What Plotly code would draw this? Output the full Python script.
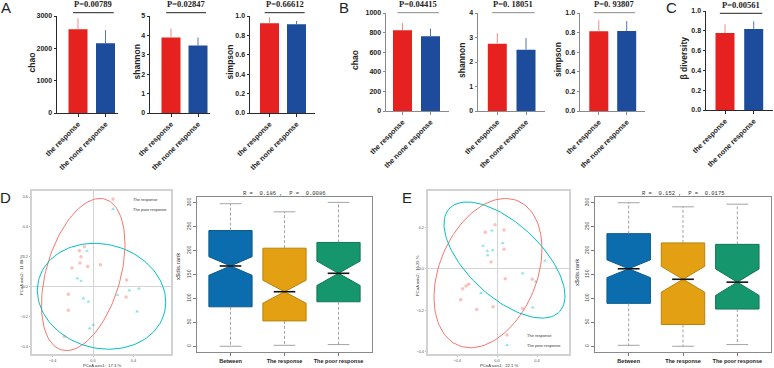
import numpy as np
import plotly.graph_objects as go

W, H = 774, 368

# ---------------- Panels A-C: mean + upper SD ----------------
bar_groups = ["the response", "the none response"]
bar_metric = ["chao", "shannon", "simpson", "chao", "shannon", "simpson", "β diversity"]
bar_mean_response = [2590, 3.89, 0.925, 824, 2.75, 0.813, 0.778]
bar_mean_none = [2155, 3.48, 0.914, 763, 2.50, 0.816, 0.819]
bar_sd_response = [340, 0.46, 0.061, 74, 0.43, 0.112, 0.088]
bar_sd_none = [410, 0.41, 0.034, 78, 0.48, 0.102, 0.077]
bar_p = ["P=0.00789", "P=0.02847", "P=0.66612", "P=0.04415", "P=0. 18051", "P=0. 93807", "P=0.00561"]
bar_ymax = [3000, 5, 1.0, 1000, 4, 1.0, 1.0]
bar_dtick = [1000, 1, 0.2, 200, 1, 0.2, 0.2]

# ---------------- Panels D/E: PCoA ----------------
pcoa_groups = ["The response", "The poor response"]
d_resp_x = [-0.086, -0.135, -0.119, -0.129, -0.208, -0.053, 0.073, 0.333, -0.244, 0.327, -0.244, -0.284]
d_resp_y = [0.269, 0.242, 0.202, 0.160, 0.127, 0.136, 0.149, 0.047, -0.049, -0.067, -0.156, -0.331]
d_poor_x = [-0.059, -0.155, -0.119, -0.096, -0.046, 0.244, 0.360, 0.455, 0.436, 0.003, -0.033]
d_poor_y = [0.240, 0.058, 0.040, -0.076, -0.098, -0.053, -0.022, -0.011, -0.164, -0.253, -0.276]
e_resp_x = [-0.020, -0.117, 0.070, 0.070, -0.060, 0.083, -0.283, -0.310, -0.343, -0.363, -0.203, -0.040, 0.257, 0.353]
e_resp_y = [0.213, 0.177, 0.188, 0.095, 0.034, -0.047, -0.074, -0.082, -0.095, -0.149, -0.196, -0.182, -0.191, -0.050]
e_poor_x = [-0.050, -0.140, -0.097, -0.043, -0.093, 0.057, 0.480, 0.257, 0.387, 0.357, -0.160]
e_poor_y = [0.185, 0.111, 0.087, 0.090, 0.066, 0.125, 0.040, -0.021, -0.061, -0.186, -0.116]
# ellipse parameters: centre x, centre y, sd x, sd y, covariance xy
d_resp_ellipse = [-0.097, 0.083, 0.4135, 0.5075, 0.0838]
d_poor_ellipse = [0.0845, -0.062, 0.6355, 0.353, -0.025]
e_resp_ellipse = [-0.090, -0.020, 0.540, 0.360, 0.063]
e_poor_ellipse = [0.075, 0.043, 0.605, 0.280, -0.105]
d_axis1_label = "PCoA axis1:  17.3 %"
d_axis2_label = "PCoA axis2:  11.08 %"
e_axis1_label = "PCoA axis1:  22.1 %"
e_axis2_label = "PCoA axis2:  16.29 %"

# ---------------- Panels D/E: ANOSIM boxplots ----------------
box_groups = ["Between", "The response", "The poor response"]
d_box_lower = [0, 2, 3.5]
d_box_q1 = [82.5, 53, 93]
d_box_median = [167.8, 114, 152.5]
d_box_q3 = [241.9, 205, 217]
d_box_upper = [298, 281, 300.7]
d_box_notch = [19.5, 24, 25.5]
d_box_title = "R =  0.186 ,  P =  0.0086"
e_box_lower = [2, 0, 3.5]
e_box_q1 = [89.7, 45.5, 77.8]
e_box_median = [162, 140, 134]
e_box_q3 = [235.4, 216, 213]
e_box_upper = [300, 291.5, 297]
e_box_notch = [18.6, 27, 27.7]
e_box_title = "R =  0.152 ,  P =  0.0175"

# ---------------- styling ----------------
RED, BLUE = "#E5221F", "#1C4C9B"
RED_ERR, BLUE_ERR = "#F08A88", "#5573BF"
PINK, CYAN = "#F8766D", "#00BFC4"
BOX_FILL = ["#0B6DAD", "#E3A012", "#16966D"]
BOX_LINE = ["#0A5A8E", "#B98208", "#0F7756"]
SANS = "Liberation Sans"


def fx(p):
    return p / W


def fy(p):
    return 1 - p / H


def ax_names(k):
    return ("x" if k == 1 else f"x{k}", "y" if k == 1 else f"y{k}",
            "xaxis" if k == 1 else f"xaxis{k}", "yaxis" if k == 1 else f"yaxis{k}")


def note(text, xp, yp, size, family=SANS, angle=0, color="#222"):
    return dict(text=text, x=fx(xp), y=fy(yp), xref="paper", yref="paper", textangle=angle,
                xanchor="center", yanchor="middle", showarrow=False,
                font=dict(family=family, size=size, color=color))


fig = go.Figure()
layout = dict(template="none", width=W, height=H, margin=dict(l=0, r=0, t=0, b=0, autoexpand=False),
              plot_bgcolor="white", paper_bgcolor="white",
              font=dict(family=SANS, color="#222"), showlegend=True)
annotations = []
shapes = []

# pixel geometry of the bar panels: axis left, red centre, blue centre, axis right, top, bottom
bar_geo = [
    (57, 78, 105.5, 118, 16, 113),
    (150, 171, 198, 210, 16, 113),
    (250, 269.5, 296.5, 315, 16, 113),
    (386, 402.5, 430.5, 449, 13, 111),
    (478, 497.3, 526, 545, 13, 111),
    (580, 598.8, 626.7, 645, 13, 111),
    (706, 725, 753.7, 773, 11, 110),
]
title_x = [31, 136, 229, 355, 462, 558, 683]
p_line_y = [12.7, 12.7, 12.7, 12.7, 12.7, 12.7, 13.3]

for i in range(7):
    k = i + 1
    xn, yn, xk, yk = ax_names(k)
    l, rc, bc, r, t, b = bar_geo[i]
    u = bc - rc
    bw = 19 / u
    axcol = "#8a8a8a" if 3 <= i <= 5 else "#2a2a2a"
    fig.add_trace(go.Bar(x=[0], y=[bar_mean_response[i]], width=bw, marker=dict(color=RED, line=dict(width=0)),
                         error_y=dict(type="data", array=[bar_sd_response[i]], arrayminus=[0], symmetric=False,
                                      color=RED_ERR, thickness=1, width=0),
                         xaxis=xn, yaxis=yn, showlegend=False, name=bar_groups[0]))
    fig.add_trace(go.Bar(x=[1], y=[bar_mean_none[i]], width=bw, marker=dict(color=BLUE, line=dict(width=0)),
                         error_y=dict(type="data", array=[bar_sd_none[i]], arrayminus=[0], symmetric=False,
                                      color=BLUE_ERR, thickness=1, width=0),
                         xaxis=xn, yaxis=yn, showlegend=False, name=bar_groups[1]))
    layout[xk] = dict(domain=[fx(l), fx(r)], range=[(l - rc) / u, (r - rc) / u], anchor=yn, automargin=False,
                      tickmode="array", tickvals=[0, 1], ticktext=bar_groups, tickangle=-45,
                      ticks="outside", ticklen=3, tickcolor=axcol, showline=True, linecolor=axcol, linewidth=1,
                      showgrid=False, zeroline=False,
                      tickfont=dict(family=SANS, size=7.3, weight="bold", color="#222"))
    fmt = ".1f" if bar_ymax[i] == 1.0 else "d"
    layout[yk] = dict(domain=[fy(b), fy(t)], range=[0, bar_ymax[i]], anchor=xn, dtick=bar_dtick[i], tick0=0,
                      automargin=False,
                      tickformat=fmt, ticks="outside", ticklen=2.5, tickcolor=axcol, showline=True, linecolor=axcol,
                      linewidth=1, showgrid=False, zeroline=False,
                      tickfont=dict(family=SANS, size=7, weight="bold", color="#222"))
    annotations.append(note(f"<b>{bar_metric[i]}</b>", title_x[i], (t + b) / 2 - 2, 8.5, angle=-90))
    pcol = "#8a8a8a" if 3 <= i <= 5 else "#222"
    shapes.append(dict(type="line", xref=xn, yref="paper", x0=-0.18, x1=1.3,
                       y0=fy(p_line_y[i]), y1=fy(p_line_y[i]), line=dict(color=pcol, width=1)))
    annotations.append(dict(text=f"<b>{bar_p[i]}</b>", x=0.56, y=fy(p_line_y[i] - 1.5), xref=xn, yref="paper",
                            xanchor="center", yanchor="bottom", showarrow=False,
                            font=dict(family="Liberation Serif", size=8.5, color="#222")))

# panel letters
for letter, px, py in [("A", 6, 8), ("B", 344, 8), ("C", 671, 8), ("D", 5, 197), ("E", 407, 197)]:
    annotations.append(note(letter, px, py, 15))


def ellipse(p, n=120):
    cx, cy, sx, sy, sxy = p
    L = np.linalg.cholesky(np.array([[sx * sx, sxy], [sxy, sy * sy]]))
    t = np.linspace(0, 2 * np.pi, n)
    pts = L @ np.vstack([np.cos(t), np.sin(t)])
    return cx + pts[0], cy + pts[1]


def pcoa_panel(k, geo, xr0, yr0, rx, ry, pts, ells, labels, legnames, legpos, yticks):
    xn, yn, xk, yk = ax_names(k)
    l, r, t, b = geo
    for (xs, ys), ep, col, sym, name, lg in zip(pts, ells, [PINK, CYAN], ["circle", "triangle-up"],
                                              pcoa_groups, legnames):
        ex, ey = ellipse(ep)
        fig.add_trace(go.Scatter(x=ex, y=ey, mode="lines", line=dict(color=col, width=1),
                                 xaxis=xn, yaxis=yn, showlegend=False, hoverinfo="skip"))
        fig.add_trace(go.Scatter(x=xs, y=ys, mode="markers", name=name, legend=lg,
                                 marker=dict(color=col, size=3.5, symbol=sym, opacity=0.45),
                                 xaxis=xn, yaxis=yn, showlegend=True))
    common = dict(showline=True, mirror=True, linecolor="#d2d2d2", linewidth=1.5, ticks="outside", ticklen=1.5,
                  tickcolor="#bbbbbb", showgrid=False, zeroline=True, zerolinecolor="#d4d4d4", automargin=False,
                  zerolinewidth=1.3, tickformat=".1f", tickfont=dict(family=SANS, size=3.8, color="#555"))
    layout[xk] = dict(domain=[fx(l), fx(r)], range=[xr0, rx], anchor=yn, tickvals=[-0.4, 0.0, 0.4], **common)
    layout[yk] = dict(domain=[fy(b), fy(t)], range=[yr0, ry], anchor=xn, tickvals=yticks, **common)
    annotations.append(note(labels[0], (l + r) / 2, 365.6, 4.2, color="#333"))
    annotations.append(note(labels[1], l - 10.5, (t + b) / 2 + 3, 4.2, angle=-90, color="#333"))
    for lg, (lx, ly) in zip(legnames, legpos):
        layout["legend" if lg == "legend" else lg] = dict(
            x=fx(lx), y=fy(ly), xanchor="left", yanchor="middle", bgcolor="rgba(0,0,0,0)",
            borderwidth=0, itemwidth=30, font=dict(family=SANS, size=4, color="#333"))


pcoa_panel(8, (32, 171, 191, 354), -0.604, -0.447, 0.772, 0.64,
           [(d_resp_x, d_resp_y), (d_poor_x, d_poor_y)], [d_resp_ellipse, d_poor_ellipse],
           [d_axis1_label, d_axis2_label], ["legend", "legend2"], [(93, 199), (93, 209)],
           [-0.4, -0.2, 0.0, 0.2, 0.4, 0.6])
pcoa_panel(10, (428, 569, 191, 354), -0.69, -0.41, 0.72, 0.376,
           [(e_resp_x, e_resp_y), (e_poor_x, e_poor_y)], [e_resp_ellipse, e_poor_ellipse],
           [e_axis1_label, e_axis2_label], ["legend3", "legend4"], [(487, 335), (487, 345)],
           [-0.4, -0.2, 0.0, 0.2])


def box_panel(k, geo, lower, q1, med, q3, upper, notch, title, title_x_px, title_y_center):
    xn, yn, xk, yk = ax_names(k)
    l, r, t, b = geo
    pos = [1, 2, 3]
    half = 0.4
    nw = 0.5
    for j in range(3):
        fig.add_trace(go.Box(x=[pos[j]], q1=[q1[j]], median=[med[j]], q3=[q3[j]],
                             lowerfence=[q1[j]], upperfence=[q3[j]], notched=True, notchspan=[notch[j]],
                             notchwidth=nw, width=2 * half, whiskerwidth=0, fillcolor=BOX_FILL[j],
                             line=dict(color=BOX_LINE[j], width=1), boxpoints=False, orientation="v",
                             xaxis=xn, yaxis=yn, showlegend=False, name=box_groups[j]))
    wx, wy, cx_, cy_, mx, my = [], [], [], [], [], []
    for j in range(3):
        wx += [pos[j], pos[j], None, pos[j], pos[j], None]
        wy += [q3[j], upper[j], None, q1[j], lower[j], None]
        cx_ += [pos[j] - half / 2, pos[j] + half / 2, None, pos[j] - half / 2, pos[j] + half / 2, None]
        cy_ += [upper[j], upper[j], None, lower[j], lower[j], None]
        mx += [pos[j] - half * (1 - nw), pos[j] + half * (1 - nw), None]
        my += [med[j], med[j], None]
    fig.add_trace(go.Scatter(x=wx, y=wy, mode="lines", line=dict(color="#8c8c8c", width=0.8, dash="3px,2px"),
                             xaxis=xn, yaxis=yn, showlegend=False, hoverinfo="skip"))
    fig.add_trace(go.Scatter(x=cx_, y=cy_, mode="lines", line=dict(color="#8c8c8c", width=0.8),
                             xaxis=xn, yaxis=yn, showlegend=False, hoverinfo="skip"))
    fig.add_trace(go.Scatter(x=mx, y=my, mode="lines", line=dict(color="#111", width=1.6),
                             xaxis=xn, yaxis=yn, showlegend=False, hoverinfo="skip"))
    layout[xk] = dict(domain=[fx(l), fx(r)], range=[0.38, 3.62], anchor=yn, tickmode="array", automargin=False,
                      tickvals=pos, ticktext=box_groups, ticks="outside", ticklen=3, tickcolor="#777",
                      showline=True, mirror=True, linecolor="#8a8a8a", linewidth=1, showgrid=False,
                      zeroline=False, tickfont=dict(family=SANS, size=5.5, weight="bold", color="#222"))
    layout[yk] = dict(domain=[fy(b), fy(t)], range=[-12, 312], anchor=xn, tickvals=[0, 50, 100, 150, 200, 250, 300],
                      tickangle=-90, ticks="outside", ticklen=3, tickcolor="#777", showline=True, mirror=True,
                      linecolor="#8a8a8a", linewidth=1, showgrid=False, zeroline=False, automargin=False,
                      tickfont=dict(family=SANS, size=5, color="#444"))
    annotations.append(note(title, (l + r) / 2, t - 4, 5.5, family="Liberation Mono", color="#333"))
    annotations.append(note("x$dis.rank", title_x_px, title_y_center, 6, angle=-90, color="#333"))


box_panel(9, (197, 372, 197, 352), d_box_lower, d_box_q1, d_box_median, d_box_q3, d_box_upper,
          d_box_notch, d_box_title, 178, 266)
box_panel(11, (595, 771, 197, 352), e_box_lower, e_box_q1, e_box_median, e_box_q3, e_box_upper,
          e_box_notch, e_box_title, 577, 272)

layout["annotations"] = annotations
layout["shapes"] = shapes
fig.update_layout(**layout)
fig.write_html("out.html", config={"displayModeBar": False},
               post_script="document.body.style.margin='0px';")
